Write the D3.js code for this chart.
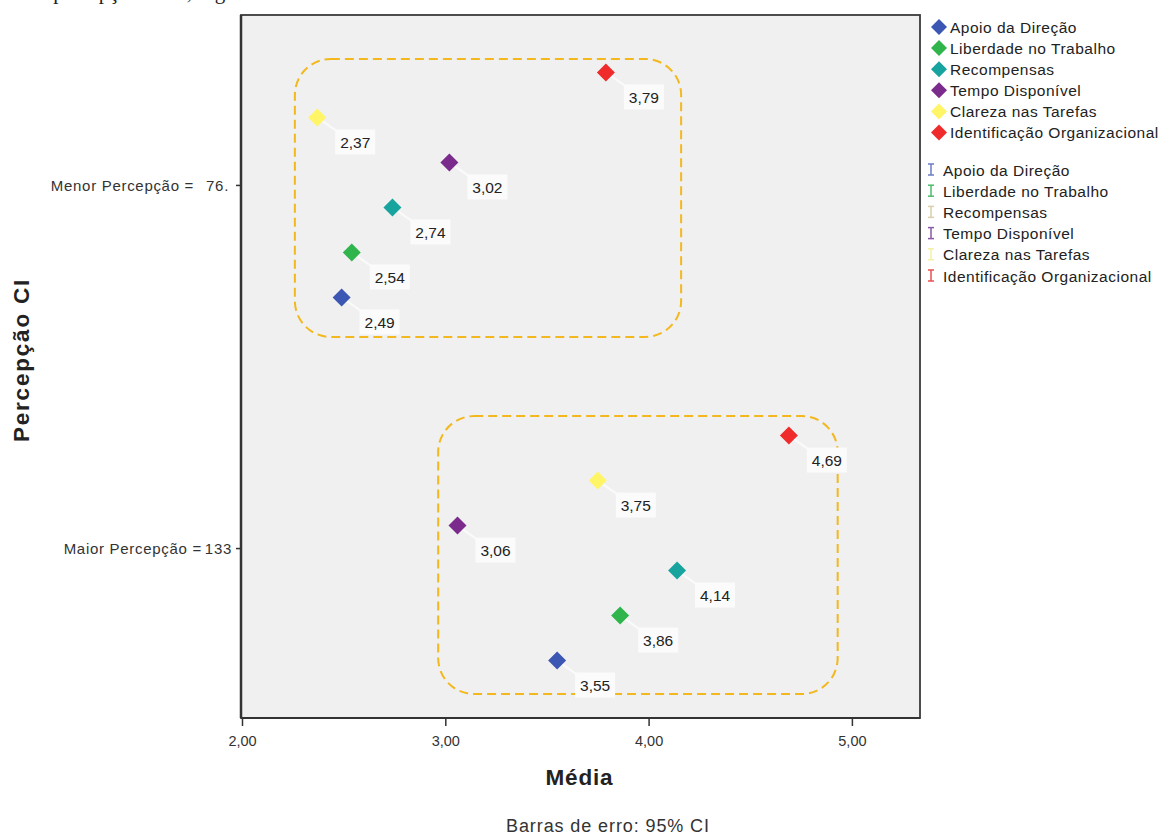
<!DOCTYPE html>
<html>
<head>
<meta charset="utf-8">
<script src="https://cdn.jsdelivr.net/npm/d3@7/dist/d3.min.js"></script>
<style>
  html, body { margin: 0; padding: 0; background: #fff; }
  svg { display: block; }
</style>
</head>
<body>
<svg id="chart" width="1175" height="837"></svg>
<script>
// ---- data ----
const groups = ["Menor Percepção", "Maior Percepção"];
const groupNames = ["Menor Percepção =", "Maior Percepção ="];
const groupCounts = ["76.", "133"];
const series = ["Apoio da Direção", "Liberdade no Trabalho", "Recompensas", "Tempo Disponível", "Clareza nas Tarefas", "Identificação Organizacional"];
const menorValues = [2.49, 2.54, 2.74, 3.02, 2.37, 3.79];
const maiorValues = [3.55, 3.86, 4.14, 3.06, 3.75, 4.69];
const markerColors = ["#3b56b3", "#2fb54c", "#17a39e", "#7a2b8c", "#fff566", "#ef2b2b"];
const errColors = ["#6a7cc4", "#4dbb6a", "#d9cfa8", "#8a5aa6", "#f4f0a6", "#e85050"];
const xTicks = [2, 3, 4, 5];
const boxX = [[2.26, 4.16], [2.965, 4.93]];

const svg = d3.select("#chart");
const L = 242, R = 920, T = 15, B = 718;
const SANS = "Liberation Sans, Arial, sans-serif";

const x = d3.scaleLinear().domain([2, 5.335]).range([L, R]);
const y = d3.scalePoint().domain(groups).range([T, B]).padding(0.468);
const sub = d3.scalePoint().domain(series).range([112.5, -112.5]);

// clipped caption at top (only its lower part is visible in the reference)
svg.append("text").attr("x", 2).attr("y", -1)
  .attr("font-family", "Liberation Serif, Times New Roman, serif")
  .attr("font-size", 21).attr("fill", "#222")
  .text("ntal e percepção desta, segundo a Análise de Clusters.");

// plot background
svg.append("rect").attr("x", L - 1).attr("y", T).attr("width", R - L + 1).attr("height", B - T)
  .attr("fill", "#f0f0f0").attr("stroke", "#3a3a3a").attr("stroke-width", 1.8);
svg.append("line").attr("x1", L - 1).attr("x2", L - 1).attr("y1", T).attr("y2", B)
  .attr("stroke", "#333").attr("stroke-width", 2.5);
svg.append("line").attr("x1", L - 1).attr("x2", R).attr("y1", B).attr("y2", B)
  .attr("stroke", "#333").attr("stroke-width", 2);

// x axis
const xAxis = svg.append("g").attr("transform", `translate(0,${B})`)
  .call(d3.axisBottom(x).tickValues(xTicks).tickSize(8).tickFormat(d => d3.format(".2f")(d).replace(".", ",")));
xAxis.select(".domain").remove();
xAxis.selectAll("line").attr("stroke", "#333").attr("stroke-width", 1.5);
xAxis.selectAll("text").attr("font-family", SANS).attr("font-size", 14.5)
  .attr("fill", "#333").attr("dy", "1.2em");

// y axis
const yAxis = svg.append("g").attr("transform", `translate(${L - 1},0)`)
  .call(d3.axisLeft(y).tickSize(5).tickFormat(""));
yAxis.select(".domain").remove();
yAxis.selectAll("line").attr("stroke", "#333").attr("stroke-width", 1.5);
yAxis.selectAll(".tick").each(function (d, i) {
  const t = d3.select(this).select("text")
    .attr("font-family", SANS).attr("font-size", 15).attr("letter-spacing", 0.7).attr("fill", "#333")
    .attr("x", i === 0 ? -12 : -9).attr("dy", "0.35em").attr("text-anchor", "end");
  t.append("tspan").text(groupNames[i]);
  t.append("tspan").attr("dx", i === 0 ? 12 : 3).text(groupCounts[i]);
});

// axis titles
svg.append("text").attr("x", x(3.66)).attr("y", 785).attr("text-anchor", "middle")
  .attr("font-family", SANS).attr("font-weight", "bold").attr("font-size", 22.5).attr("letter-spacing", 0.8)
  .attr("fill", "#222").text("Média");
svg.append("text").attr("transform", "translate(29,360) rotate(-90)").attr("text-anchor", "middle")
  .attr("font-family", SANS).attr("font-weight", "bold").attr("font-size", 22.5).attr("letter-spacing", 1.8)
  .attr("fill", "#222").text("Percepção CI");
svg.append("text").attr("x", 608).attr("y", 832).attr("text-anchor", "middle")
  .attr("font-family", SANS).attr("font-size", 18).attr("letter-spacing", 0.9)
  .attr("fill", "#333").text("Barras de erro: 95% CI");

// annotation boxes
const boxY = [[-126, 152], [-132, 146]];
groups.forEach((g, gi) => {
  const x0 = x(boxX[gi][0]), x1 = x(boxX[gi][1]);
  const y0 = y(g) + boxY[gi][0], y1 = y(g) + boxY[gi][1];
  svg.append("rect").attr("x", x0).attr("y", y0).attr("width", x1 - x0).attr("height", y1 - y0)
    .attr("rx", 36).attr("ry", 36).attr("fill", "none")
    .attr("stroke", "#f2b81e").attr("stroke-width", 2).attr("stroke-dasharray", "9,5");
});

// points
const pts = [];
groups.forEach((g, gi) => {
  const vals = gi === 0 ? menorValues : maiorValues;
  series.forEach((s, si) => pts.push({ g, s, si, v: vals[si] }));
});
const diamond = r => `M0,${-r}L${r},0L0,${r}L${-r},0Z`;
const pg = svg.append("g");
pts.forEach(p => {
  const px = x(p.v), py = y(p.g) + sub(p.s);
  const lx = px + 38, ly = py + 25;
  pg.append("line").attr("x1", px).attr("y1", py).attr("x2", lx - 18).attr("y2", ly - 11)
    .attr("stroke", "#fafafa").attr("stroke-width", 2);
  pg.append("rect").attr("x", lx - 20).attr("y", ly - 13).attr("width", 40).attr("height", 25)
    .attr("fill", "#fbfbfb");
  pg.append("text").attr("x", lx).attr("y", ly + 5.5).attr("text-anchor", "middle")
    .attr("font-family", SANS).attr("font-size", 15.5).attr("fill", "#222")
    .text(d3.format(".2f")(p.v).replace(".", ","));
  pg.append("path").attr("d", diamond(9)).attr("transform", `translate(${px},${py})`)
    .attr("fill", markerColors[p.si]);
});

// legend
const lg = svg.append("g");
series.forEach((s, i) => {
  const yy = 27 + i * 21.1;
  lg.append("path").attr("d", diamond(8)).attr("transform", `translate(939,${yy})`).attr("fill", markerColors[i]);
  lg.append("text").attr("x", 950).attr("y", yy + 5.5).attr("font-family", SANS)
    .attr("font-size", 15.5).attr("letter-spacing", 0.5).attr("fill", "#222").text(s);
});
series.forEach((s, i) => {
  const yy = 170 + i * 21.2;
  const c = errColors[i];
  lg.append("line").attr("x1", 931).attr("x2", 931).attr("y1", yy - 6).attr("y2", yy + 5).attr("stroke", c).attr("stroke-width", 1.5);
  lg.append("line").attr("x1", 928).attr("x2", 934).attr("y1", yy - 6).attr("y2", yy - 6).attr("stroke", c).attr("stroke-width", 1.5);
  lg.append("line").attr("x1", 928).attr("x2", 934).attr("y1", yy + 5).attr("y2", yy + 5).attr("stroke", c).attr("stroke-width", 1.5);
  lg.append("text").attr("x", 943).attr("y", yy + 5.5).attr("font-family", SANS)
    .attr("font-size", 15.5).attr("letter-spacing", 0.5).attr("fill", "#222").text(s);
});
</script>
</body>
</html>
